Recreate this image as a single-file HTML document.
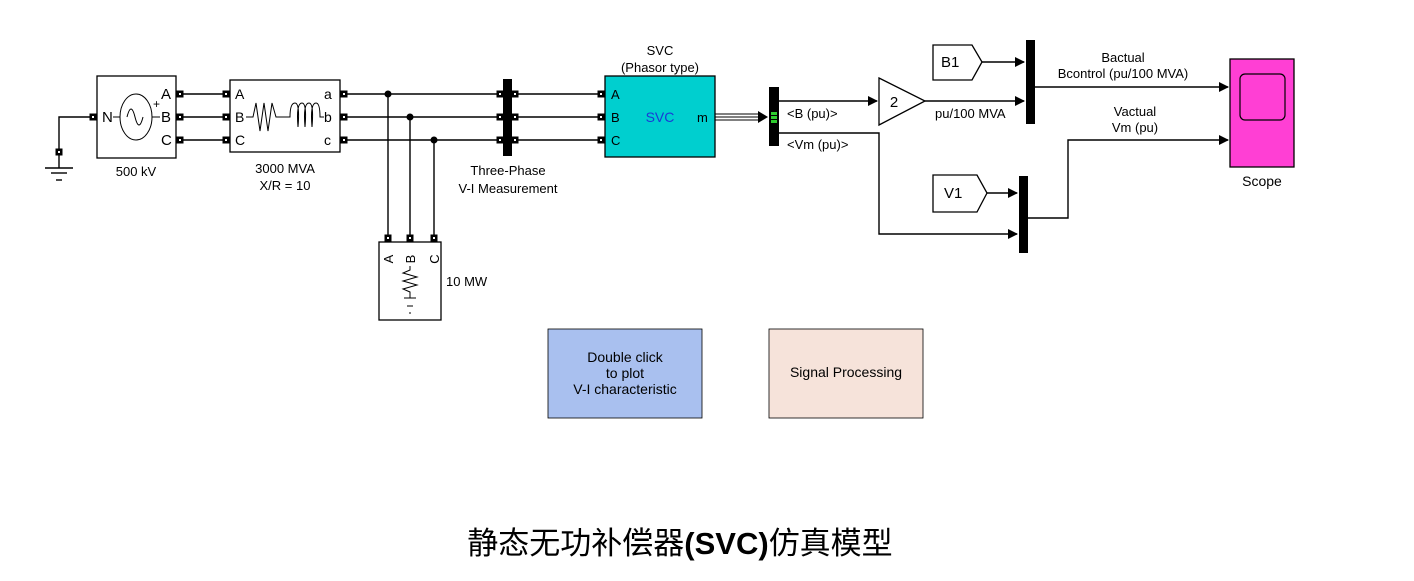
<!DOCTYPE html>
<html><head><meta charset="utf-8"><style>
html,body{margin:0;padding:0;background:#fff;}
svg{display:block;font-family:"Liberation Sans",Arial,sans-serif;}
</style></head><body>
<svg width="1414" height="581" viewBox="0 0 1414 581" xmlns="http://www.w3.org/2000/svg">
<defs>
<marker id="ar" markerWidth="10" markerHeight="10" refX="9" refY="5" orient="auto" markerUnits="userSpaceOnUse"><path d="M0,0 L10,5 L0,10 z" fill="#000"/></marker>
<g id="port"><rect x="-3.5" y="-3.5" width="7" height="7" fill="#000"/><rect x="-1" y="-1" width="2" height="2" fill="#fff"/></g>
</defs>
<rect width="1414" height="581" fill="#fff"/>
<g stroke="#000" stroke-width="1.4" fill="none">
<polyline points="93,117 59,117 59,152"/>
<line x1="59" y1="152" x2="59" y2="168"/>
<line x1="45" y1="168" x2="73" y2="168"/>
<line x1="51" y1="173" x2="67" y2="173"/>
<line x1="56" y1="180" x2="62" y2="180"/>
<line x1="180" y1="94" x2="226" y2="94"/>
<line x1="180" y1="117" x2="226" y2="117"/>
<line x1="180" y1="140" x2="226" y2="140"/>
<line x1="344" y1="94" x2="500" y2="94"/>
<line x1="344" y1="117" x2="500" y2="117"/>
<line x1="344" y1="140" x2="500" y2="140"/>
<line x1="515" y1="94" x2="601" y2="94"/>
<line x1="515" y1="117" x2="601" y2="117"/>
<line x1="515" y1="140" x2="601" y2="140"/>
<line x1="388" y1="94" x2="388" y2="236"/>
<line x1="410" y1="117" x2="410" y2="236"/>
<line x1="434" y1="140" x2="434" y2="236"/>
<line x1="779" y1="101" x2="877" y2="101" marker-end="url(#ar)"/>
<polyline points="779,133 879,133 879,234 1017,234" marker-end="url(#ar)"/>
<line x1="925" y1="101" x2="1024" y2="101" marker-end="url(#ar)"/>
<line x1="982" y1="62" x2="1024" y2="62" marker-end="url(#ar)"/>
<line x1="1035" y1="87" x2="1228" y2="87" marker-end="url(#ar)"/>
<line x1="987" y1="193" x2="1017" y2="193" marker-end="url(#ar)"/>
<polyline points="1028,218 1068,218 1068,140 1228,140" marker-end="url(#ar)"/>
</g>
<g stroke="#000" stroke-width="1"><line x1="715" y1="114" x2="760" y2="114"/><line x1="715" y1="117" x2="760" y2="117"/><line x1="715" y1="120" x2="760" y2="120"/></g>
<path d="M758,111 L768,117 L758,123 z" fill="#000"/>
<circle cx="388" cy="94" r="3.5"/><circle cx="410" cy="117" r="3.5"/><circle cx="434" cy="140" r="3.5"/>
<rect x="97" y="76" width="79" height="82" fill="#fff" stroke="#000" stroke-width="1.3"/>
<ellipse cx="136" cy="117" rx="16" ry="23" fill="none" stroke="#000" stroke-width="1"/>
<path d="M127,117 q4,-16 8,0 q4,16 8,0" fill="none" stroke="#000" stroke-width="1"/>
<line x1="113" y1="117" x2="120" y2="117" stroke="#000"/><line x1="152" y1="117" x2="160" y2="117" stroke="#000"/>
<text x="102" y="122" font-size="15">N</text>
<text x="161" y="99" font-size="15">A</text><text x="161" y="122" font-size="15">B</text><text x="161" y="145" font-size="15">C</text>
<text x="153" y="108" font-size="12">+</text>
<use href="#port" x="93" y="117"/><use href="#port" x="180" y="94"/><use href="#port" x="180" y="117"/><use href="#port" x="180" y="140"/>
<use href="#port" x="59" y="152"/>
<text x="136" y="176" font-size="13" text-anchor="middle">500 kV</text>
<rect x="230" y="80" width="110" height="72" fill="#fff" stroke="#000" stroke-width="1.3"/>
<text x="235" y="99" font-size="14">A</text><text x="235" y="122" font-size="14">B</text><text x="235" y="145" font-size="14">C</text>
<text x="324" y="99" font-size="14">a</text><text x="324" y="122" font-size="14">b</text><text x="324" y="145" font-size="14">c</text>
<path d="M246,117 L253,117 L256,103 L260,131 L264,103 L268,131 L272,103 L276,117 L290,117 Q290,103 295,103 Q300,103 298,127 Q296,103 302,103 Q307,103 305,127 Q303,103 309,103 Q314,103 312,127 Q310,103 316,103 Q320,103 320,117 L324,117" fill="none" stroke="#000" stroke-width="1"/>
<use href="#port" x="226" y="94"/><use href="#port" x="226" y="117"/><use href="#port" x="226" y="140"/>
<use href="#port" x="344" y="94"/><use href="#port" x="344" y="117"/><use href="#port" x="344" y="140"/>
<text x="285" y="173" font-size="13" text-anchor="middle">3000 MVA</text>
<text x="285" y="190" font-size="13" text-anchor="middle">X/R = 10</text>
<rect x="503" y="79" width="9" height="77" fill="#000"/>
<g><use href="#port" x="500" y="94"/><use href="#port" x="515" y="94"/><use href="#port" x="500" y="117"/><use href="#port" x="515" y="117"/><use href="#port" x="500" y="140"/><use href="#port" x="515" y="140"/></g>
<text x="508" y="175" font-size="13" text-anchor="middle">Three-Phase</text>
<text x="508" y="193" font-size="13" text-anchor="middle">V-I Measurement</text>
<rect x="379" y="242" width="62" height="78" fill="#fff" stroke="#000" stroke-width="1.3"/>
<use href="#port" x="388" y="238"/><use href="#port" x="410" y="238"/><use href="#port" x="434" y="238"/>
<text font-size="13" transform="translate(393,259) rotate(-90)" text-anchor="middle">A</text>
<text font-size="13" transform="translate(415,259) rotate(-90)" text-anchor="middle">B</text>
<text font-size="13" transform="translate(439,259) rotate(-90)" text-anchor="middle">C</text>
<path d="M410,266 L410,270 L403,273 L417,277 L403,281 L417,285 L403,289 L410,292 L410,298 M404,298 L416,298 M407,306 L413,306 M409,313 L411,313" fill="none" stroke="#000" stroke-width="1"/>
<text x="446" y="286" font-size="13">10 MW</text>
<rect x="605" y="76" width="110" height="81" fill="#00cfcf" stroke="#000" stroke-width="1.3"/>
<text x="660" y="55" font-size="13" text-anchor="middle">SVC</text>
<text x="660" y="72" font-size="13" text-anchor="middle">(Phasor type)</text>
<text x="611" y="99" font-size="13">A</text><text x="611" y="122" font-size="13">B</text><text x="611" y="145" font-size="13">C</text>
<text x="660" y="122" font-size="14" fill="#1a3ad6" text-anchor="middle">SVC</text>
<text x="697" y="122" font-size="13">m</text>
<use href="#port" x="601" y="94"/><use href="#port" x="601" y="117"/><use href="#port" x="601" y="140"/>
<rect x="769" y="87" width="10" height="59" fill="#000"/>
<rect x="771" y="112" width="6" height="3" fill="#2ecc2e"/><rect x="771" y="116" width="6" height="3" fill="#2ecc2e"/><rect x="771" y="120" width="6" height="3" fill="#2ecc2e"/>
<text x="787" y="118" font-size="13">&lt;B (pu)&gt;</text>
<text x="787" y="149" font-size="13">&lt;Vm (pu)&gt;</text>
<path d="M879,78 L925,101 L879,125 z" fill="#fff" stroke="#000" stroke-width="1.3"/>
<text x="894" y="107" font-size="15" text-anchor="middle">2</text>
<text x="935" y="118" font-size="13">pu/100 MVA</text>
<path d="M933,45 L972,45 L982,62 L972,80 L933,80 z" fill="#fff" stroke="#000" stroke-width="1.3"/>
<text x="941" y="67" font-size="15">B1</text>
<path d="M933,175 L977,175 L987,193 L977,212 L933,212 z" fill="#fff" stroke="#000" stroke-width="1.3"/>
<text x="944" y="198" font-size="15">V1</text>
<rect x="1026" y="40" width="9" height="84" fill="#000"/>
<rect x="1019" y="176" width="9" height="77" fill="#000"/>
<text x="1123" y="62" font-size="13" text-anchor="middle">Bactual</text>
<text x="1123" y="78" font-size="13" text-anchor="middle">Bcontrol (pu/100 MVA)</text>
<text x="1135" y="116" font-size="13" text-anchor="middle">Vactual</text>
<text x="1135" y="132" font-size="13" text-anchor="middle">Vm (pu)</text>
<rect x="1230" y="59" width="64" height="108" fill="#ff3fd4" stroke="#000" stroke-width="1.3"/>
<rect x="1240" y="74" width="45" height="46" rx="5" fill="none" stroke="#000" stroke-width="1.2"/>
<text x="1262" y="186" font-size="14" text-anchor="middle">Scope</text>
<rect x="548" y="329" width="154" height="89" fill="#a9c0ef" stroke="#000" stroke-width="0.8"/>
<text x="625" y="362" font-size="14" text-anchor="middle">Double click</text>
<text x="625" y="378" font-size="14" text-anchor="middle">to plot</text>
<text x="625" y="394" font-size="14" text-anchor="middle">V-I characteristic</text>
<rect x="769" y="329" width="154" height="89" fill="#f6e3da" stroke="#000" stroke-width="0.8"/>
<text x="846" y="377" font-size="14" text-anchor="middle">Signal Processing</text>
<text x="680" y="554" font-size="31" text-anchor="middle" font-family="'Liberation Sans','Noto Sans CJK SC',sans-serif">静态无功补偿器<tspan font-weight="bold">(SVC)</tspan>仿真模型</text>
</svg>
</body></html>
